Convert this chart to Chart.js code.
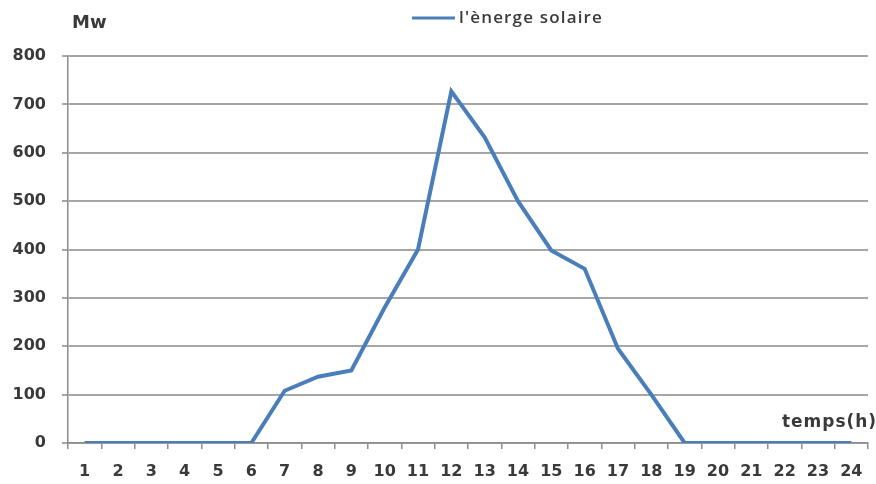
<!DOCTYPE html>
<html><head><meta charset="utf-8">
<script src="https://cdn.jsdelivr.net/npm/chart.js@4/dist/chart.umd.min.js"></script>
<style>html,body{margin:0;padding:0;background:#fff}#wrap{width:876px;height:484px}</style>
</head><body><div id="wrap"><canvas id="c" width="876" height="484"></canvas></div>
<script>
const hours = ['1','2','3','4','5','6','7','8','9','10','11','12','13','14','15','16','17','18','19','20','21','22','23','24'];
const solarMW = [0,0,0,0,0,0,108,137,150,280,400,727,632,500,398,360,195,100,0,0,0,0,0,0];
const yTicks = [0,100,200,300,400,500,600,700,800];
const seriesName = "l'ènerge solaire";
const yUnit = 'Mw';
const xTitle = 'temps(h)';

const FONT = "'DejaVu Sans', sans-serif";
const TXT = '#3a3a3a';
function fitText(ctx, text, x, y, width) {
  ctx.letterSpacing = '0px';
  const w = ctx.measureText(text).width;
  const ls = (width - w) / (text.length);
  ctx.letterSpacing = ls.toFixed(2) + 'px';
  ctx.fillText(text, x, y);
  ctx.letterSpacing = '0px';
}
const textPlugin = {
  id: 'texts',
  afterDraw(chart) {
    const ctx = chart.ctx;
    ctx.save();
    const ds = chart.data.datasets[0];
    ctx.strokeStyle = ds.borderColor;
    ctx.lineWidth = 3;
    ctx.beginPath(); ctx.moveTo(412, 18); ctx.lineTo(455, 18); ctx.stroke();
    ctx.fillStyle = TXT;
    ctx.font = "600 17px 'Open Sans', sans-serif";
    ctx.textBaseline = 'middle';
    ctx.textAlign = 'left';
    fitText(ctx, ds.label, 459, 18, 144);
    ctx.font = "bold 18px " + FONT;
    ctx.fillText(yUnit, 72, 23);
    ctx.font = "bold 17px " + FONT;
    fitText(ctx, xTitle, 782, 423, 95);
    ctx.restore();
  }
};

new Chart(document.getElementById('c'), {
  type: 'line',
  data: {
    labels: hours,
    datasets: [{
      label: seriesName,
      data: solarMW,
      borderColor: '#4a7ebb',
      backgroundColor: '#4a7ebb',
      borderWidth: 4,
      pointRadius: 0,
      tension: 0,
      fill: false
    }]
  },
  options: {
    responsive: false,
    animation: false,
    devicePixelRatio: 1,
    layout: { padding: { top: 56, right: 8, left: 0, bottom: 0 } },
    plugins: { legend: { display: false }, tooltip: { enabled: false } },
    scales: {
      x: {
        type: 'category',
        offset: true,
        grid: { offset: true, drawOnChartArea: false, drawTicks: true, tickLength: 6, color: '#8c8c8c', lineWidth: 1.5 },
        border: { display: true, color: '#8c8c8c', width: 1.5 },
        ticks: { color: TXT, font: { family: FONT, size: 16, weight: 'bold' }, padding: 13, maxRotation: 0, autoSkip: false },
        afterFit(scale) { scale.height = 41; }
      },
      y: {
        min: 0, max: 800,
        afterBuildTicks(scale) { scale.ticks = yTicks.map(v => ({ value: v })); },
        grid: { color: '#a6a6a6', lineWidth: 2, tickLength: 6 },
        border: { display: true, color: '#8c8c8c', width: 1.5 },
        ticks: { color: TXT, font: { family: FONT, size: 16, weight: 'bold' }, padding: 16 },
        afterFit(scale) { scale.width = 68; }
      }
    }
  },
  plugins: [textPlugin]
});
</script></body></html>
